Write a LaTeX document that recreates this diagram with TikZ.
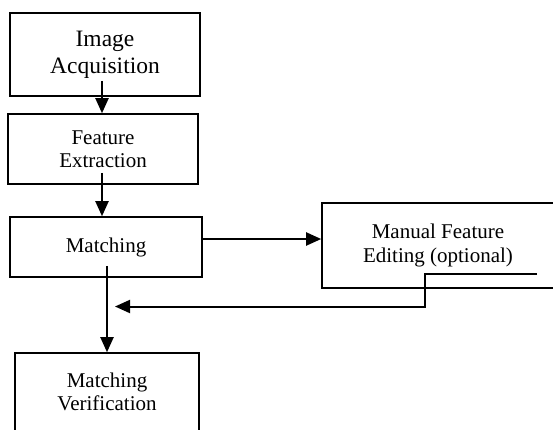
\documentclass[tikz,border=0pt]{standalone}
\usepackage{fontspec}
\setmainfont{Liberation Serif}
\usetikzlibrary{arrows.meta,calc}
\tikzset{
  box/.style={draw=black,line width=1.6pt,rectangle,align=center,inner sep=0pt,
    font=\fontsize{21}{23.5}\selectfont},
  bigbox/.style={box,font=\fontsize{23.5}{27}\selectfont},
  arr/.style={line width=2pt,-{Triangle[length=15pt,width=13pt]}},
  ln/.style={line width=2pt}
}
\begin{document}
\begin{tikzpicture}[x=1pt,y=-1pt]
\path[use as bounding box,fill=white] (0,0) rectangle (553,429);
\clip (0,0) rectangle (553,429);
\node[bigbox,minimum width=190pt,minimum height=83pt] (img) at (105,54.5) {Image\\Acquisition};
\node[box,minimum width=190pt,minimum height=70pt] (feat) at (103,149) {Feature\\Extraction};
\node[box,minimum width=192pt,minimum height=60pt] (match) at (106,247) {Matching};
\node[box,minimum width=232pt,minimum height=85pt] (manual) at (438,245.5) {Manual Feature\\Editing (optional)};
\node[box,minimum width=184pt,minimum height=78pt] (verif) at (107,392) {Matching\\Verification};
\coordinate (a1) at ($(img.south)+(-3,-16)$);
\coordinate (a2) at ($(feat.south)+(-1,-12)$);
\coordinate (a3) at ($(match.east)+(0,-8)$);
\coordinate (a4) at ($(match.south)+(1,-12)$);
\draw[arr] (a1) -- (a1 |- feat.north);
\draw[arr] (a2) -- (a2 |- match.north);
\draw[arr] (a3) -- (a3 -| manual.west);
\draw[arr] (a4) -- (a4 |- verif.north);
\coordinate (r1) at (537,273.5);
\coordinate (r2) at (425,273.5);
\coordinate (r3) at (425,306.5);
\coordinate (r4) at (115,306.5);
\draw[arr] (r1) -- (r2) -- (r3) -- (r4);
\end{tikzpicture}
\end{document}
